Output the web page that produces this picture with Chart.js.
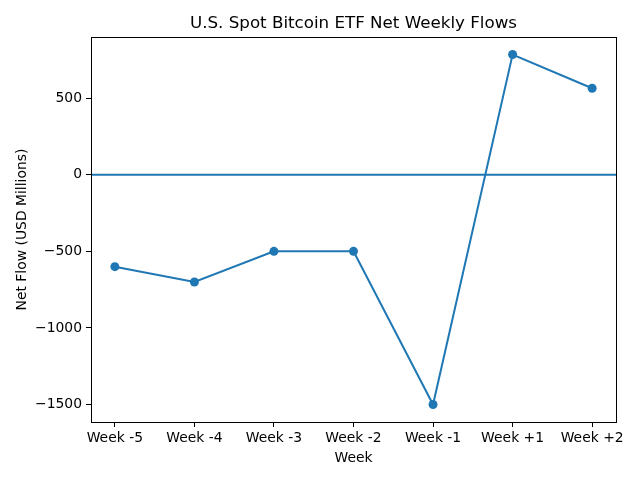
<!DOCTYPE html>
<html><head><meta charset="utf-8">
<script src="https://cdn.jsdelivr.net/npm/chart.js@4.4.1/dist/chart.umd.min.js"></script>
<style>html,body{margin:0;padding:0;background:#fff}#w{width:640px;height:480px}</style>
</head><body><div id="w"><canvas id="c" width="640" height="480"></canvas></div>
<script>
const weeks = ["Week -5","Week -4","Week -3","Week -2","Week -1","Week +1","Week +2"];
const netFlows = [-600,-700,-500,-500,-1500,785,565];
const yTicks = [-1500,-1000,-500,0,500];
const zeroLine = 0;

const blue = '#1f77b4';
Chart.defaults.font.family = 'DejaVu Sans';
Chart.defaults.color = '#000';

const lo = Math.min(...netFlows), hi = Math.max(...netFlows);
const m = (hi - lo) * 0.05;
const frame = {id:'frame', afterDraw(ch){const a=ch.chartArea,c=ch.ctx;c.save();c.strokeStyle='#000';c.lineWidth=1;c.strokeRect(Math.round(a.left)+0.5,Math.round(a.top)+0.5,Math.round(a.right-a.left),Math.round(a.bottom-a.top));c.restore();}};

new Chart(document.getElementById('c'), {
  type:'line',
  data:{datasets:[
    {data:weeks.map((w,i)=>({x:i,y:netFlows[i]})),borderColor:blue,backgroundColor:blue,borderWidth:2,pointRadius:4.5,pointHoverRadius:4.5,pointBorderWidth:0,tension:0},
    {data:[{x:-0.3,y:zeroLine},{x:weeks.length-0.7,y:zeroLine}],borderColor:blue,borderWidth:2,pointRadius:0,tension:0}
  ]},
  options:{
    responsive:false,animation:false,devicePixelRatio:1,
    layout:{padding:{left:0,right:24,top:0,bottom:0}},
    plugins:{legend:{display:false},tooltip:{enabled:false},
      title:{display:true,fullSize:false,text:'U.S. Spot Bitcoin ETF Net Weekly Flows',font:{size:16.7,weight:'normal'},color:'#000',padding:{top:14,bottom:3}}},
    scales:{
      x:{type:'linear',min:-0.3,max:weeks.length-0.7,
        afterBuildTicks(s){s.ticks=weeks.map((w,i)=>({value:i}));},
        afterFit(s){s.height=58;},
        ticks:{callback:(v)=>weeks[v],font:{size:13.9},color:'#000',padding:3,maxRotation:0,autoSkip:false},
        grid:{drawOnChartArea:false,drawTicks:true,tickLength:5,tickColor:'#000'},
        border:{display:false},
        title:{display:true,text:'Week',font:{size:13.9},color:'#000',padding:{top:2,bottom:13}}},
      y:{min:lo-m,max:hi+m,
        afterBuildTicks(s){s.ticks=yTicks.map(v=>({value:v}));},
        afterFit(s){s.width=91;},
        ticks:{font:{size:13.9},color:'#000',padding:4,callback:(v)=>String(v).replace('-','\u2212')},
        grid:{drawOnChartArea:false,drawTicks:true,tickLength:5,tickColor:'#000'},
        border:{display:false},
        title:{display:true,text:'Net Flow (USD Millions)',font:{size:13.9},color:'#000',padding:{top:14,bottom:0}}}
    }
  },
  plugins:[frame]
});
</script></body></html>
